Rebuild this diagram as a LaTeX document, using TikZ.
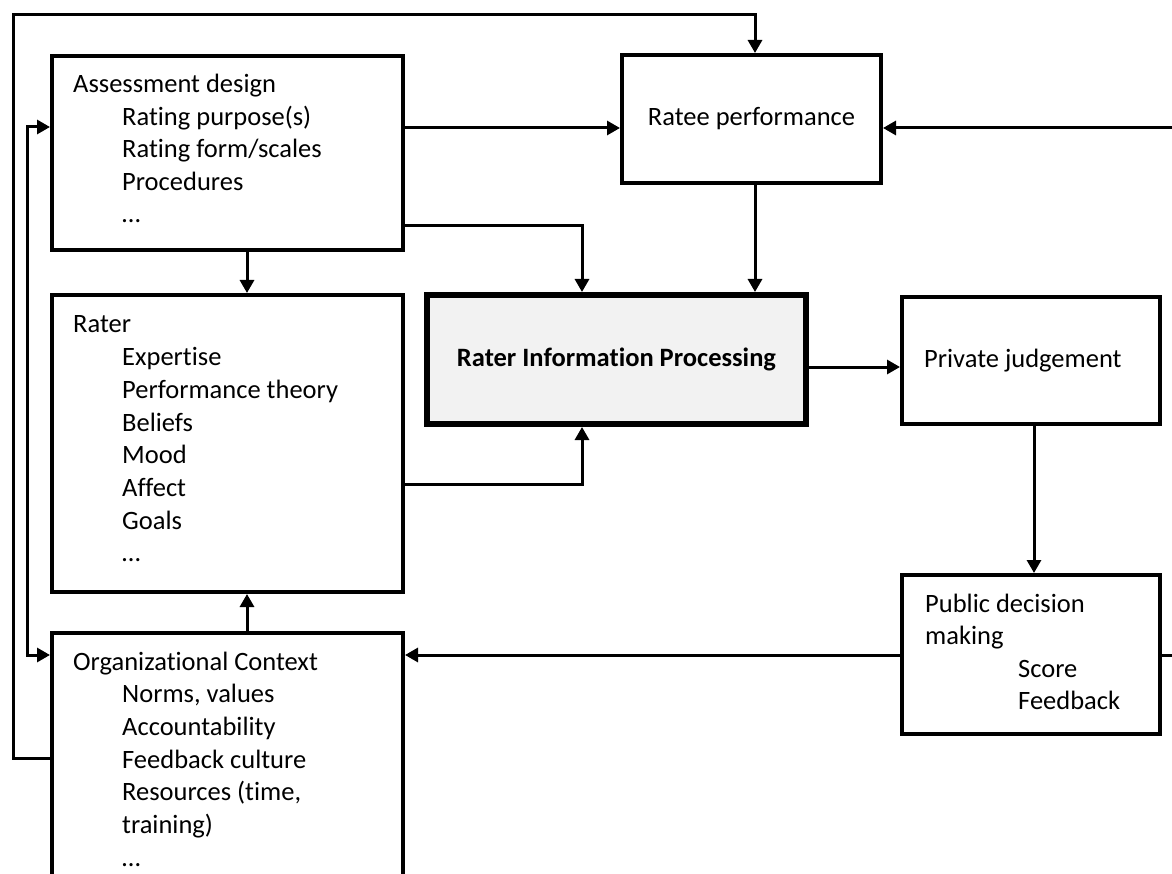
\documentclass[tikz,border=0pt]{standalone}
\usepackage{fontspec}
\setmainfont{Carlito}[Ligatures={NoCommon,NoRequired,NoContextual}]
\usetikzlibrary{arrows.meta}
\definecolor{ripgray}{HTML}{F2F2F2}
\tikzset{box/.style={draw, line width=4pt, inner sep=0pt, font=\fontsize{26.5}{32.5}\selectfont}}
\tikzset{lbl/.style={anchor=base west, inner sep=0pt, font=\fontsize{26.5}{32.5}\selectfont}}
\tikzset{flow/.style={line width=3pt, -{Triangle[length=13pt,width=14pt]}}}
\tikzset{flowboth/.style={line width=3pt, {Triangle[length=13pt,width=14pt]}-{Triangle[length=13pt,width=14pt]}}}

\begin{document}
\begin{tikzpicture}[x=1pt,y=-1pt]
\useasboundingbox (0,0) rectangle (1172,874);
% Boxes
\node[box, minimum width=351pt, minimum height=194pt] (assess) at (227.5,153) {};
\node[box, minimum width=351pt, minimum height=297pt] (rater) at (227.5,443.5) {};
\node[box, minimum width=351pt, minimum height=267pt] (org) at (227.5,766.5) {};
\node[box, minimum width=259pt, minimum height=128pt] (ratee) at (751.5,119) {Ratee performance};
\node[box, line width=6pt, fill=ripgray, minimum width=379pt, minimum height=129pt] (rip) at (616.5,359.5) {\bfseries Rater Information Processing};
\node[box, minimum width=258pt, minimum height=127pt] (priv) at (1031,360.5) {};
\node[box, minimum width=258pt, minimum height=159pt] (pub) at (1031,654.5) {};
% Assessment design
\node[lbl] (assess-t) at (73,93) {Assessment design};
\foreach \t [count=\i] in {Rating purpose(s), Rating form/scales, Procedures, …}
  \node[lbl] (assess-\i) at (122,{93+32.4*\i}) {\t};
% Rater
\node[lbl] (rater-t) at (73,333) {Rater};
\foreach \t [count=\i] in {Expertise, Performance theory, Beliefs, Mood, Affect, Goals, …}
  \node[lbl] (rater-\i) at (122,{333+32.7*\i}) {\t};
% Organizational Context
\node[lbl] (org-t) at (73,670) {Organizational Context};
\foreach \t [count=\i] in {{Norms, values}, Accountability, Feedback culture, {Resources (time,}, training), …}
  \node[lbl] (org-\i) at (122,{670+32.7*\i}) {\t};
% Private judgement, Public decision making
\node[lbl] (priv-t) at (924,367) {Private judgement};
\node[lbl] (pub-t) at (925,612) {Public decision};
\node[lbl] (pub-t2) at (925,644) {making};
\node[lbl] (pub-1) at (1018,677) {Score};
\node[lbl] (pub-2) at (1018,709) {Feedback};
% Bends of the feedback loops
\coordinate (loopA) at (13,15);
\coordinate (loopB) at (755,0);
\coordinate (loopD) at (27,400);
\coordinate (loopE) at (1190,400);
% Connectors
\draw[flow] (org.west |- 0,758) -| (loopA) -| (ratee.north -| loopB);
\draw[flowboth] (assess.west |- 0,127) -| (loopD) |- (org.west |- 0,655);
\draw[flow] (assess.east |- 0,128) -- (ratee.west |- 0,128);
\draw[flow] (assess.east |- 0,226) -| (rip.north -| 582,0);
\draw[flow] (ratee.south -| loopB) -- (rip.north -| loopB);
\draw[flow] (assess.south -| 247,0) -- (rater.north -| 247,0);
\draw[flow] (org.north -| 247,0) -- (rater.south -| 247,0);
\draw[flow] (rater.east |- 0,484) -| (rip.south -| 582,0);
\draw[flow] (rip.east |- 0,367) -- (priv.west |- 0,367);
\draw[flow] (priv.south -| 1034,0) -- (pub.north -| 1034,0);
\draw[flow] (pub.west |- 0,655) -- (org.east |- 0,655);
\draw[flow] (pub.east |- 0,655) -| (loopE) |- (ratee.east |- 0,128);
\end{tikzpicture}
\end{document}
